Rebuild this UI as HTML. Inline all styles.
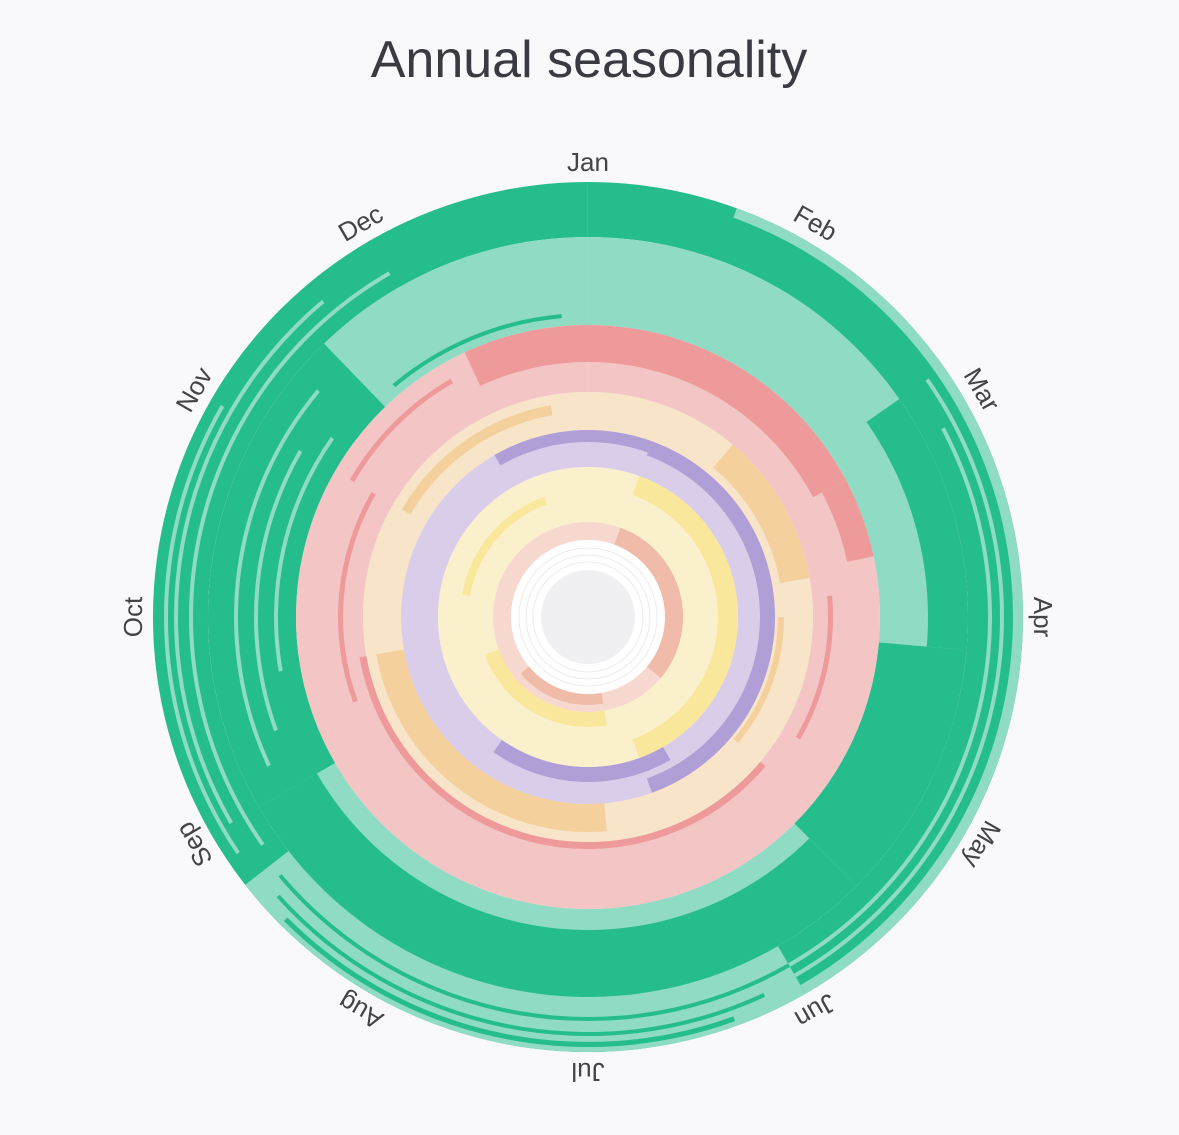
<!DOCTYPE html>
<html><head><meta charset="utf-8"><style>
body{margin:0;background:#f9f9fb;}
svg{display:block}
</style></head><body>
<svg id="s" width="1179" height="1135" viewBox="0 0 1179 1135" xmlns="http://www.w3.org/2000/svg">
<rect width="1179" height="1135" fill="#f9f9fb"/>
<text x="589" y="77" text-anchor="middle" font-family="Liberation Sans, sans-serif" font-size="52" fill="#3a3a42">Annual seasonality</text>
<g id="rings"></g>
<g id="labels" font-family="Liberation Sans, sans-serif" font-size="26" fill="#444" text-anchor="middle"></g>
</svg>
<script>
const cx=588,cy=617,NS="http://www.w3.org/2000/svg";
const g=document.getElementById('rings');
function arc(r0,r1,a0,a1,c){
  if(a1<a0)a1+=360;
  if(a1-a0>=360){a1=a0+359.99;}
  const rad=a=>(a-90)*Math.PI/180;
  const p=(r,a)=>[cx+r*Math.cos(rad(a)),cy+r*Math.sin(rad(a))];
  const large=(a1-a0)>180?1:0;
  const [x0,y0]=p(r1,a0),[x1,y1]=p(r1,a1),[x2,y2]=p(r0,a1),[x3,y3]=p(r0,a0);
  const e=document.createElementNS(NS,'path');
  e.setAttribute('d',`M${x0} ${y0}A${r1} ${r1} 0 ${large} 1 ${x1} ${y1}L${x2} ${y2}A${r0} ${r0} 0 ${large} 0 ${x3} ${y3}Z`);
  e.setAttribute('fill',c);g.appendChild(e);
}
const DG='#26bd8c',LG='#8fdbc3',DR='#ee9a9a',LR='#f4c5c5',DO='#f4d09c',LO='#f8e4c8',DP='#b09ed6',LP='#d9cde9',DY='#f9e79c',LY='#faf0cc',DS='#f0bba8',LS='#f6d8ce';
// green outer
arc(380,435,0,360,DG);
arc(380,435,150,232,LG);
arc(425,435,20,150,LG);
[[400,404,62,150],[412,416,55,150],[395,399,235,330],[410,414,240,320],[420,424,236,300]].forEach(a=>arc(a[0],a[1],a[2],a[3],LG));
[[400,404,150,230],[415,419,155,228],[425,430,160,225]].forEach(a=>arc(a[0],a[1],a[2],a[3],DG));
// green inner
arc(292,380,0,360,LG);
arc(292,380,95,135,DG);
arc(313,380,135,240,DG);
arc(292,380,240,316,DG);
arc(340,380,55,95,DG);
[[350,354,245,310],[330,334,250,300],[310,314,260,305]].forEach(a=>arc(a[0],a[1],a[2],a[3],LG));
[[300,304,320,355]].forEach(a=>arc(a[0],a[1],a[2],a[3],DG));
// red
arc(225,292,0,360,LR);
arc(255,292,335,62,DR);
arc(265,292,62,78,DR);
[[225,232,130,260],[240,245,85,120],[245,250,250,300],[270,275,300,330]].forEach(a=>arc(a[0],a[1],a[2],a[3],DR));
// orange
arc(187,225,0,360,LO);
arc(195,225,40,80,DO);arc(187,215,175,260,DO);arc(205,215,300,350,DO);arc(190,196,90,130,DO);
// purple
arc(150,187,0,360,LP);
arc(172,187,20,160,DP);arc(150,165,150,215,DP);arc(175,187,330,20,DP);
// yellow
arc(95,150,0,360,LY);
arc(130,150,20,160,DY);arc(95,110,170,250,DY);arc(120,128,280,340,DY);
// peach
arc(77,95,0,360,LS);
arc(77,95,20,130,DS);arc(77,88,170,230,DS);
// white / grey center
arc(47,77,0,360,'#ffffff');
[55,62,69].forEach(r=>{const c=document.createElementNS(NS,'circle');c.setAttribute('cx',cx);c.setAttribute('cy',cy);c.setAttribute('r',r);c.setAttribute('fill','none');c.setAttribute('stroke','#e6e6e6');c.setAttribute('stroke-width','0.8');g.appendChild(c);});
const cc=document.createElementNS(NS,'circle');cc.setAttribute('cx',cx);cc.setAttribute('cy',cy);cc.setAttribute('r',47);cc.setAttribute('fill','#f0f0f2');g.appendChild(cc);
const L=document.getElementById('labels');
['Jan','Feb','Mar','Apr','May','Jun','Jul','Aug','Sep','Oct','Nov','Dec'].forEach((m,i)=>{
  const t=document.createElementNS(NS,'text');t.setAttribute('x',cx);t.setAttribute('y',cy-446);
  t.setAttribute('transform',`rotate(${i*30} ${cx} ${cy})`);t.textContent=m;L.appendChild(t);
});
</script>
</body></html>
